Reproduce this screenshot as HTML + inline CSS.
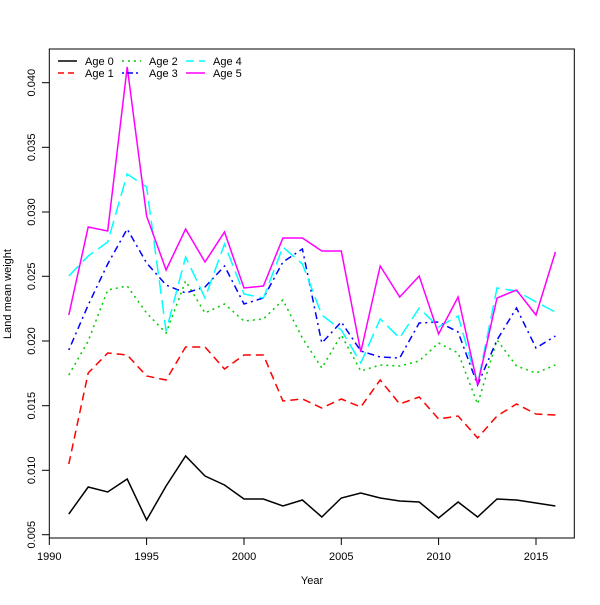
<!DOCTYPE html>
<html><head><style>body{margin:0;background:#fff}</style></head><body>
<svg width="600" height="600" xmlns="http://www.w3.org/2000/svg" font-family="Liberation Sans, DejaVu Sans, sans-serif" font-size="11">
<rect x="49.3" y="49" width="525" height="489" fill="none" stroke="#000" stroke-width="1"/>
<g stroke="#000">
<line x1="49.3" y1="538" x2="49.3" y2="545"/><line x1="146.6" y1="538" x2="146.6" y2="545"/><line x1="244" y1="538" x2="244" y2="545"/><line x1="341.3" y1="538" x2="341.3" y2="545"/><line x1="438.6" y1="538" x2="438.6" y2="545"/><line x1="536" y1="538" x2="536" y2="545"/>
<line x1="42" y1="82.7" x2="49.3" y2="82.7"/><line x1="42" y1="147.3" x2="49.3" y2="147.3"/><line x1="42" y1="212" x2="49.3" y2="212"/><line x1="42" y1="276.3" x2="49.3" y2="276.3"/><line x1="42" y1="341" x2="49.3" y2="341"/><line x1="42" y1="405.7" x2="49.3" y2="405.7"/><line x1="42" y1="470.3" x2="49.3" y2="470.3"/><line x1="42" y1="534.7" x2="49.3" y2="534.7"/>
</g>
<g text-anchor="middle">
<text x="49.3" y="560">1990</text><text x="146.6" y="560">1995</text><text x="244" y="560">2000</text><text x="341.3" y="560">2005</text><text x="438.6" y="560">2010</text><text x="536" y="560">2015</text>
<text transform="translate(35,82.7) rotate(-90)">0.040</text>
<text transform="translate(35,147.3) rotate(-90)">0.035</text>
<text transform="translate(35,212) rotate(-90)">0.030</text>
<text transform="translate(35,276.3) rotate(-90)">0.025</text>
<text transform="translate(35,341) rotate(-90)">0.020</text>
<text transform="translate(35,405.7) rotate(-90)">0.015</text>
<text transform="translate(35,470.3) rotate(-90)">0.010</text>
<text transform="translate(35,534.7) rotate(-90)">0.005</text>
<text x="312" y="584">Year</text>
<text transform="translate(11,294) rotate(-90)">Land mean weight</text>
</g>
<g fill="none" stroke-width="1.5">
<polyline stroke="#000" points="68.8,514 88.2,487 107.7,492 127.2,479 146.6,520 166.1,486 185.6,456 205,476 224.5,485 244,499 263.4,499 282.9,506 302.4,500 321.8,517 341.3,498 360.8,493 380.2,498 399.7,501 419.2,502 438.6,518 458.1,502 477.6,517 497,499 516.5,500 536,503 555.4,506"/>
<polyline stroke="#f00" stroke-dasharray="8,5" points="68.8,464 88.2,373 107.7,353 127.2,355 146.6,376 166.1,380 185.6,347 205,347 224.5,369 244,355 263.4,355 282.9,401 302.4,399 321.8,408 341.3,399 360.8,407 380.2,380 399.7,404 419.2,397 438.6,419 458.1,416 477.6,438 497,416 516.5,404 536,414 555.4,415"/>
<polyline stroke="#0c0" stroke-dasharray="2,4" points="68.8,375 88.2,341 107.7,290 127.2,286 146.6,313 166.1,333 185.6,281 205,313 224.5,304 244,321 263.4,319 282.9,300 302.4,338 321.8,368 341.3,335 360.8,371 380.2,365 399.7,366 419.2,361 438.6,343 458.1,353 477.6,404 497,340 516.5,366 536,373 555.4,365"/>
<polyline stroke="#00f" stroke-dasharray="2,4,7,4" points="68.8,350 88.2,305 107.7,264 127.2,229 146.6,263 166.1,285 185.6,293 205,287 224.5,266 244,304 263.4,298 282.9,262 302.4,249 321.8,343 341.3,322 360.8,351 380.2,357 399.7,358 419.2,323 438.6,322 458.1,332 477.6,385 497,340 516.5,308 536,348 555.4,336"/>
<polyline stroke="#0ff" stroke-dasharray="14,6" points="68.8,276 88.2,256 107.7,242 127.2,174 146.6,187 166.1,331 185.6,257 205,298 224.5,244 244,294 263.4,298 282.9,247 302.4,264 321.8,315 341.3,330 360.8,363 380.2,319 399.7,338 419.2,308 438.6,327 458.1,316 477.6,384 497,288 516.5,291 536,302 555.4,312"/>
<polyline stroke="#f0f" points="68.8,315 88.2,227 107.7,231 127.2,67 146.6,216 166.1,270 185.6,229 205,262 224.5,232 244,288 263.4,286 282.9,238 302.4,238 321.8,251 341.3,251 360.8,352 380.2,266 399.7,297 419.2,276 438.6,334 458.1,297 477.6,385 497,298 516.5,290 536,315 555.4,252"/>
<line stroke="#000" x1="58" y1="61" x2="77" y2="61"/>
<line stroke="#f00" stroke-dasharray="6,4" x1="58" y1="73" x2="77" y2="73"/>
<line stroke="#0c0" stroke-dasharray="2,4" x1="122" y1="61" x2="141" y2="61"/>
<line stroke="#00f" stroke-dasharray="2,3,6,3" x1="122" y1="73" x2="141" y2="73"/>
<line stroke="#0ff" stroke-dasharray="8,5" x1="186" y1="61" x2="205" y2="61"/>
<line stroke="#f0f" x1="186" y1="73" x2="205" y2="73"/>
</g>
<text x="85" y="65">Age 0</text><text x="85" y="77">Age 1</text>
<text x="149" y="65">Age 2</text><text x="149" y="77">Age 3</text>
<text x="213" y="65">Age 4</text><text x="213" y="77">Age 5</text>
</svg>
</body></html>
